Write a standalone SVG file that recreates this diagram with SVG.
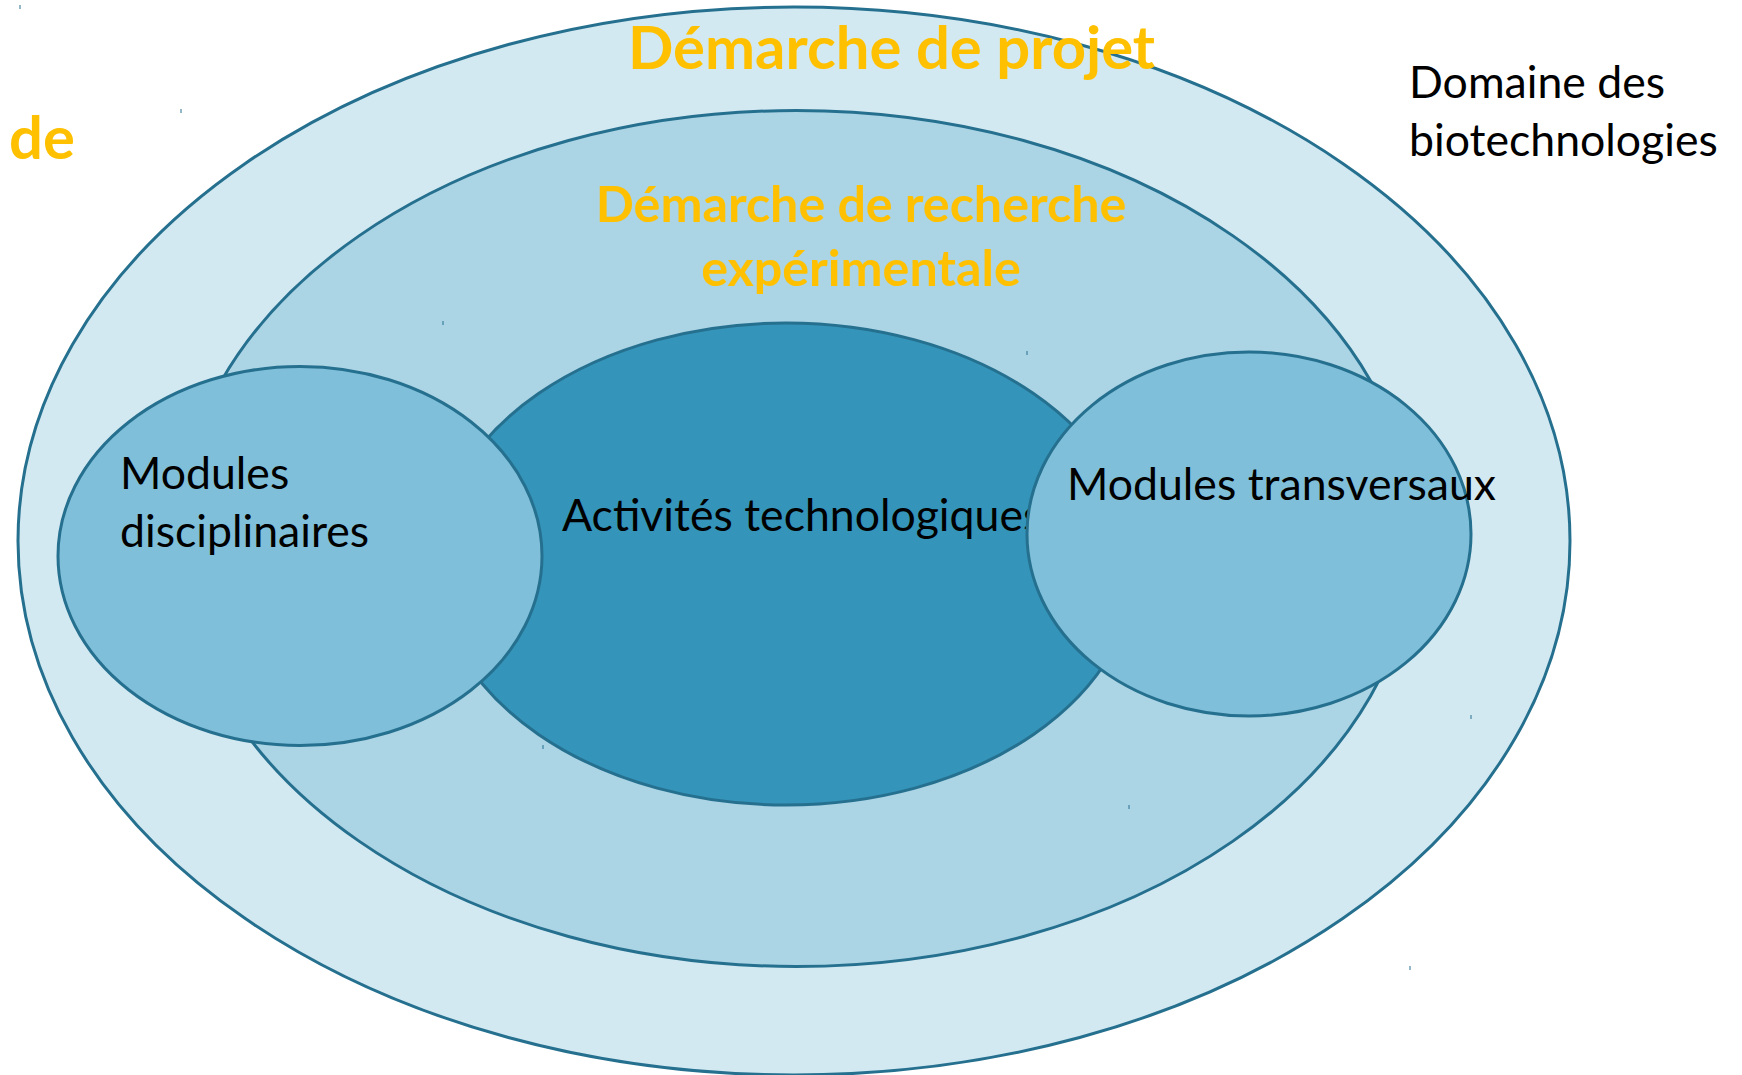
<svg xmlns="http://www.w3.org/2000/svg" width="1742" height="1075" viewBox="0 0 1742 1075">
  <style>
    .ring { stroke: #26708F; stroke-width: 3; }
    .outer { fill: #D3E9F2; }
    .middle { fill: #ABD4E5; }
    .core { fill: #3494BA; }
    .module { fill: #7FBFDA; }
    .title { font-family: Lato, "Liberation Sans", sans-serif; font-weight: bold; fill: #FFC000; }
    .label { font-family: Lato, "Liberation Sans", sans-serif; fill: #000000; font-size: 44.6px; }
    .speck { stroke: #26708F; stroke-width: 1; }
  </style>
  <rect width="1742" height="1075" fill="#FFFFFF"/>

  <!-- Domaine des biotechnologies : outer field -->
  <g id="domaine">
    <ellipse class="ring outer" cx="794" cy="541" rx="776" ry="534"/>
  </g>

  <!-- Démarche de recherche expérimentale -->
  <g id="recherche">
    <ellipse class="ring middle" cx="796" cy="538.5" rx="618" ry="428"/>
    <text class="title" x="861" y="222" font-size="50.2" text-anchor="middle">Démarche de recherche</text>
    <text class="title" x="861" y="286" font-size="50.2" text-anchor="middle">expérimentale</text>
  </g>

  <!-- Activités technologiques : core -->
  <g id="activites">
    <ellipse class="ring core" cx="786" cy="564" rx="350" ry="241"/>
    <text class="label" x="562" y="531">Activités technologiques</text>
  </g>

  <!-- Modules disciplinaires -->
  <g id="modules-disciplinaires">
    <ellipse class="ring module" cx="300" cy="556" rx="242" ry="189.5"/>
    <text class="label" x="120" y="489">Modules</text>
    <text class="label" x="120" y="547">disciplinaires</text>
  </g>

  <!-- Modules transversaux -->
  <g id="modules-transversaux">
    <ellipse class="ring module" cx="1249" cy="534" rx="222" ry="182"/>
    <text class="label" x="1067" y="500">Modules transversaux</text>
  </g>

  <!-- Démarche de projet title and stray fragment -->
  <g id="projet">
    <text class="title" x="628" y="69" font-size="59.8">Démarche de projet</text>
    <text class="title" x="9" y="159" font-size="59.8">de</text>
  </g>

  <!-- Domaine des biotechnologies label -->
  <g id="domaine-label">
    <text class="label" x="1409" y="98">Domaine des</text>
    <text class="label" x="1409" y="156">biotechnologies</text>
  </g>

  <!-- small handle marks -->
  <g id="connectors">
    <line class="speck" x1="181" y1="109" x2="181" y2="113"/>
    <line class="speck" x1="443" y1="321" x2="443" y2="325"/>
    <line class="speck" x1="1027" y1="351" x2="1027" y2="355"/>
    <line class="speck" x1="543" y1="745" x2="543" y2="749"/>
    <line class="speck" x1="1129" y1="805" x2="1129" y2="809"/>
    <line class="speck" x1="1471" y1="715" x2="1471" y2="719"/>
    <line class="speck" x1="1410" y1="966" x2="1410" y2="970"/>
    <line class="speck" x1="20" y1="5" x2="20" y2="9"/>
  </g>
</svg>
